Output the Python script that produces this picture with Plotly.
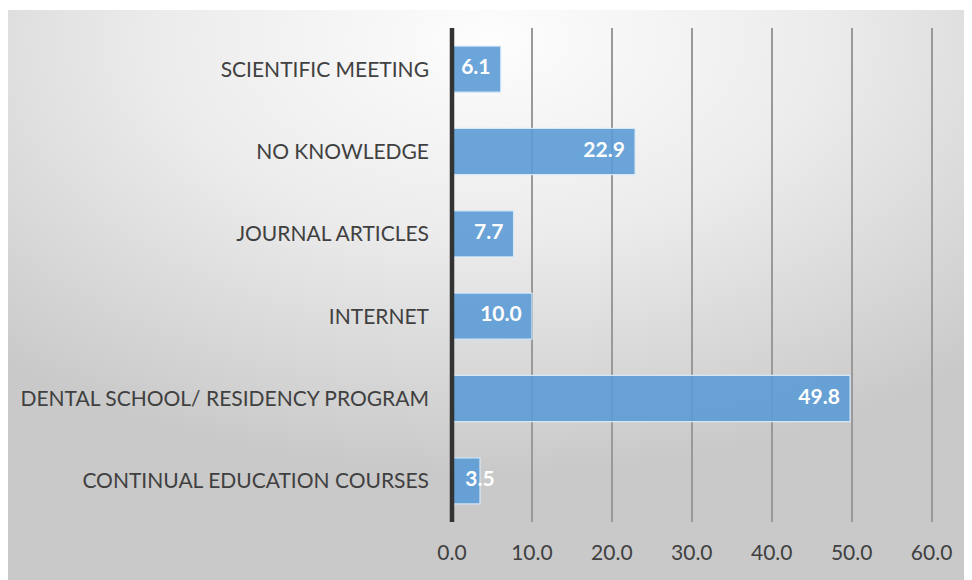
import plotly.graph_objects as go
import urllib.parse

categories = [
    "CONTINUAL EDUCATION COURSES",
    "DENTAL SCHOOL/ RESIDENCY PROGRAM",
    "INTERNET",
    "JOURNAL ARTICLES",
    "NO KNOWLEDGE",
    "SCIENTIFIC MEETING",
]
values = [3.5, 49.8, 10.0, 7.7, 22.9, 6.1]
label_positions = ["middle center", "middle left", "middle left", "middle left", "middle left", "middle left"]
tick_vals = [0, 10, 20, 30, 40, 50, 60]
tick_text = ["0.0", "10.0", "20.0", "30.0", "40.0", "50.0", "60.0"]

FONT = "Lato, 'Open Sans', sans-serif"

# page body has an 8px margin, so figure coordinates = reference - 8
OFF = 8
W, H = 972 - OFF, 580 - OFF
ml, mr, mt, mb = 452 - OFF, 38, 28 - OFF, 58
pw = W - ml - mr
ph = H - mt - mb

bg_w, bg_h = 972, 580
svg = (
    f'<svg xmlns="http://www.w3.org/2000/svg" width="{bg_w}" height="{bg_h}" viewBox="0 0 {bg_w} {bg_h}" preserveAspectRatio="none">'
    '<defs><radialGradient id="g" cx="0.5" cy="0.05" r="0.75" gradientUnits="objectBoundingBox">'
    '<stop offset="0" stop-color="#fdfdfd"/>'
    '<stop offset="0.45" stop-color="#ececec"/>'
    '<stop offset="1" stop-color="#c9c9c9"/>'
    '</radialGradient></defs>'
    f'<rect x="0" y="0" width="{bg_w}" height="{bg_h}" fill="url(#g)"/></svg>'
)
svg_uri = "data:image/svg+xml;charset=utf-8," + urllib.parse.quote(svg)

img_left_px, img_top_px = 5 - OFF, 10 - OFF
img_x = (img_left_px - ml) / pw
img_y = (H - mb - img_top_px) / ph

fig = go.Figure()
fig.add_trace(go.Bar(
    x=values,
    y=categories,
    orientation="h",
    marker=dict(color="rgba(91,155,213,0.9)", line=dict(color="rgba(220,235,250,0.9)", width=1.2)),
    hoverinfo="skip",
))
fig.add_trace(go.Scatter(
    x=values,
    y=categories,
    mode="text",
    text=[f"{v:.1f}  " if p == "middle left" else f"{v:.1f}" for v, p in zip(values, label_positions)],
    textposition=label_positions,
    textfont=dict(family=FONT, size=21, color="white", weight="bold"),
    cliponaxis=False,
    hoverinfo="skip",
))

fig.update_layout(
    width=W, height=H,
    margin=dict(l=ml, r=mr, t=mt, b=mb),
    paper_bgcolor="white",
    plot_bgcolor="rgba(0,0,0,0)",
    bargap=0.44,
    showlegend=False,
    font=dict(family=FONT, color="#404040", size=21),
    images=[dict(source=svg_uri, xref="paper", yref="paper", x=img_x, y=img_y,
                 sizex=bg_w / pw, sizey=bg_h / ph, sizing="stretch",
                 xanchor="left", yanchor="top", layer="below")],
    xaxis=dict(
        range=[0, 60.3],
        tickvals=tick_vals, ticktext=tick_text,
        showgrid=True, gridcolor="#999999", gridwidth=1.5,
        zeroline=False, showline=False,
        tickfont=dict(family=FONT, size=21, color="#404040"),
        ticks="", ticklabelstandoff=16,
        fixedrange=True,
    ),
    yaxis=dict(
        categoryorder="array", categoryarray=categories,
        showgrid=False, zeroline=False,
        showline=False,
        ticks="", ticklabelstandoff=22,
        tickfont=dict(family=FONT, size=21, color="#404040"),
        fixedrange=True,
    ),
    shapes=[dict(type="line", xref="paper", yref="paper", x0=0, x1=0, y0=0, y1=1,
                 line=dict(color="#333333", width=4.5), layer="above")],
)

fig.write_html("out.html")
